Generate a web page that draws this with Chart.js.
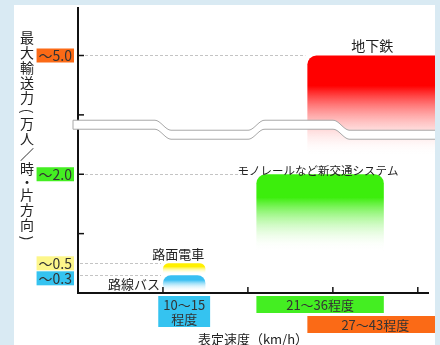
<!DOCTYPE html>
<html lang="ja">
<head>
<meta charset="utf-8">
<script src="https://cdn.jsdelivr.net/npm/chart.js@4/dist/chart.umd.min.js"></script>
<style>
  html, body { margin: 0; padding: 0; background: #d9eaf3; }
  #panel { position: absolute; left: 14px; top: 5px; width: 421px; height: 340px; background: #fff; overflow: hidden; }
</style>
</head>
<body>
<div id="panel"><canvas id="chart"></canvas></div>
<script>
// 交通機関ごとの表定速度（km/h）と最大輸送力（万人／時・片方向）
const modes = ['路線バス', '路面電車', 'モノレールなど新交通システム', '地下鉄'];
const speedFrom = [10, 10, 21, 27];
const speedTo = [15, 15, 36, 43];
const capacityMax = [0.3, 0.5, 2.0, 5.0];
const capacityFade = [0.03, 0.32, 0.7, 2.3];   // グラデーションが消える下端
const capacityLabels = ['～0.3', '～0.5', '～2.0', '～5.0'];
const yMarks = [1, 2, 4, 5];
const xMarks = [10, 20, 30, 40];
const waveSteps = [10, 21, 31];                 // 波線の段差位置（速度）

// 縦軸の省略区間（2.75〜3.75 を詰める）
const axisBreak = { from: 2.75, to: 3.75 };
const toAxis = v => v >= axisBreak.to ? v - (axisBreak.to - axisBreak.from) : v;

const yTitle = '最大輸送力(万人／時・片方向)';
const xTitle = '表定速度（km/h）';

// 見た目
const FONT = '"Noto Sans CJK JP", "Noto Sans", sans-serif';
const barColors = ['#38bff2', '#fff000', '#3cee0c', '#ff0000'];
const labelColors = ['#35c3f0', '#fdf68a', '#44ee22', '#fb6a16'];

const diagram = {
  id: 'diagram',
  afterDatasetsDraw(chart) {
    const { ctx, chartArea: area, scales: { x, y } } = chart;
    const yp = v => y.getPixelForValue(toAxis(v));

    ctx.save();

    // 目盛り値からの点線
    ctx.strokeStyle = '#c4c4c4';
    ctx.lineWidth = 1;
    ctx.setLineDash([3, 2]);
    modes.forEach((m, i) => {
      const yy = Math.round(yp(capacityMax[i])) + 0.5;
      ctx.beginPath();
      ctx.moveTo(area.left + 2, yy);
      ctx.lineTo(x.getPixelForValue(speedFrom[i]) - 2, yy);
      ctx.stroke();
    });
    ctx.setLineDash([]);

    // 各交通機関の範囲（上端が丸い、下に向かって消えるグラデーション）
    modes.forEach((m, i) => {
      const x1 = x.getPixelForValue(speedFrom[i]);
      const x2 = x.getPixelForValue(speedTo[i]);
      const top = yp(capacityMax[i]);
      const bottom = yp(capacityFade[i]);
      const g = ctx.createLinearGradient(0, top, 0, bottom);
      g.addColorStop(0, barColors[i]);
      g.addColorStop(0.3, barColors[i]);
      g.addColorStop(1, 'rgba(255,255,255,0)');
      const r = Math.min(9, (bottom - top) / 2);
      ctx.fillStyle = g;
      ctx.beginPath();
      ctx.roundRect(x1, top, x2 - x1, bottom - top, [r, r, 0, 0]);
      ctx.fill();
    });

    // 省略区間の波線
    const yb = y.getPixelForValue(axisBreak.from);
    const amp = 5, half = 4.5, ramp = 8;
    const centerAt = px => {
      let level = -1;
      waveSteps.forEach((s, k) => {
        const sx = x.getPixelForValue(s);
        const t = Math.min(1, Math.max(0, (px - sx + ramp) / (2 * ramp)));
        const st = t * t * (3 - 2 * t);
        level += (k % 2 === 0 ? 2 : -2) * st;
      });
      return yb + amp * level;
    };
    const xs = [];
    for (let px = area.left - 5; px <= chart.width + 4; px += 2) xs.push(px);
    ctx.beginPath();
    xs.forEach((px, k) => k ? ctx.lineTo(px, centerAt(px) - half) : ctx.moveTo(px, centerAt(px) - half));
    xs.slice().reverse().forEach(px => ctx.lineTo(px, centerAt(px) + half));
    ctx.closePath();
    ctx.fillStyle = '#fff';
    ctx.fill();
    ctx.strokeStyle = '#a8a8a8';
    ctx.lineWidth = 1;
    ctx.stroke();

    // 内向きの目盛り
    ctx.strokeStyle = '#111';
    ctx.lineWidth = 1.5;
    yMarks.forEach(v => {
      const yy = yp(v);
      ctx.beginPath();
      ctx.moveTo(area.left, yy);
      ctx.lineTo(area.left + 6, yy);
      ctx.stroke();
    });
    xMarks.forEach(v => {
      const xx = x.getPixelForValue(v);
      ctx.beginPath();
      ctx.moveTo(xx, area.bottom);
      ctx.lineTo(xx, area.bottom - 6);
      ctx.stroke();
    });

    // 交通機関名
    ctx.fillStyle = '#222';
    const barMid = i => (x.getPixelForValue(speedFrom[i]) + x.getPixelForValue(speedTo[i])) / 2;
    ctx.font = '13px ' + FONT;
    ctx.textAlign = 'right';
    ctx.textBaseline = 'middle';
    ctx.fillText(modes[0], x.getPixelForValue(speedFrom[0]) - 3, (yp(capacityMax[0]) + yp(capacityFade[0])) / 2 + 1);
    ctx.textAlign = 'center';
    ctx.textBaseline = 'bottom';
    ctx.fillText(modes[1], barMid(1) - 6, yp(capacityMax[1]) - 3);
    ctx.font = '11.5px ' + FONT;
    ctx.fillText(modes[2], barMid(2) - 2, yp(capacityMax[2]) + 2);
    ctx.font = '14px ' + FONT;
    ctx.fillText(modes[3], barMid(3) - 3, yp(capacityMax[3]) - 3);

    // 縦軸の値（色付きの枠、重なる場合は下へずらす）
    ctx.font = '14px ' + FONT;
    ctx.textBaseline = 'middle';
    const boxH = 14;
    const order = capacityLabels.map((t, i) => i).sort((a, b) => capacityMax[b] - capacityMax[a]);
    let prevBottom = -Infinity;
    order.forEach(i => {
      const t = capacityLabels[i];
      let top = yp(capacityMax[i]) - boxH / 2;
      if (top < prevBottom + 1) top = prevBottom + 1;
      prevBottom = top + boxH;
      const w = ctx.measureText(t).width + 4;
      const right = area.left - 4;
      ctx.fillStyle = labelColors[i];
      ctx.fillRect(right - w, top, w, boxH);
      ctx.fillStyle = '#333';
      ctx.textAlign = 'center';
      ctx.fillText(t, right - w / 2, top + boxH / 2 + 0.5);
    });

    // 横軸の速度範囲（重なる場合は下の段へ）
    ctx.font = '13px ' + FONT;
    const rows = [];
    const seen = new Set();
    modes.forEach((m, i) => {
      const key = speedFrom[i] + '-' + speedTo[i];
      if (seen.has(key)) return;
      seen.add(key);
      const x1 = x.getPixelForValue(speedFrom[i]);
      const x2 = x.getPixelForValue(speedTo[i]);
      const full = `${speedFrom[i]}～${speedTo[i]}程度`;
      let lines = [full];
      if (ctx.measureText(full).width > x2 - x1) lines = [`${speedFrom[i]}～${speedTo[i]}`, '程度'];
      const w = Math.max(x2 - x1, ctx.measureText(lines[0]).width + 10);
      const cx = (x1 + x2) / 2;
      const bx = cx - w / 2;
      let row = 0;
      while (rows.some(b => b.row === row && b.x < bx + w && bx < b.x + b.w)) row++;
      const h = lines.length * 14 + 3;
      const by = area.bottom + 3 + row * 20;
      rows.push({ row, x: bx, w });
      ctx.fillStyle = labelColors[i];
      ctx.fillRect(bx, by, w, h);
      ctx.fillStyle = '#333';
      ctx.textAlign = 'center';
      ctx.textBaseline = 'middle';
      lines.forEach((l, k) => ctx.fillText(l, cx, by + 9 + k * 14));
    });

    // 軸タイトル
    ctx.fillStyle = '#222';
    ctx.font = '13px ' + FONT;
    ctx.fillText(xTitle, (area.left + area.right) / 2, area.bottom + 46);

    // 縦書き：括弧は90度回して描く
    ctx.font = '14px ' + FONT;
    let ty = 33;
    [...yTitle].forEach((c, k) => {
      const narrow = '()・'.includes(c);
      const adv = narrow ? 11 : 15;
      if (k > 0) ty += adv / 2;
      if (c === '(' || c === ')') {
        ctx.save();
        ctx.translate(13, ty);
        ctx.rotate(Math.PI / 2);
        ctx.fillText(c, 0, 0);
        ctx.restore();
      } else {
        ctx.fillText(c, 13, ty);
      }
      ty += adv / 2;
    });

    ctx.restore();
  }
};

new Chart(document.getElementById('chart'), {
  type: 'scatter',
  data: {
    datasets: modes.map((m, i) => ({
      label: m,
      data: [
        { x: speedFrom[i], y: toAxis(capacityMax[i]) },
        { x: speedTo[i], y: toAxis(capacityMax[i]) }
      ],
      pointRadius: 0
    }))
  },
  options: {
    responsive: true,
    maintainAspectRatio: false,
    animation: false,
    layout: { padding: { left: 64, top: 3, right: 7, bottom: 52 } },
    plugins: {
      legend: { display: false },
      tooltip: { enabled: false }
    },
    scales: {
      x: {
        type: 'linear', min: 0, max: 41.2,
        grid: { display: false, drawTicks: false },
        ticks: { display: false },
        border: { color: '#111', width: 2 }
      },
      y: {
        min: 0, max: 4.8,
        grid: { display: false, drawTicks: false },
        ticks: { display: false },
        border: { color: '#111', width: 2 }
      }
    }
  },
  plugins: [diagram]
});
</script>
</body>
</html>
